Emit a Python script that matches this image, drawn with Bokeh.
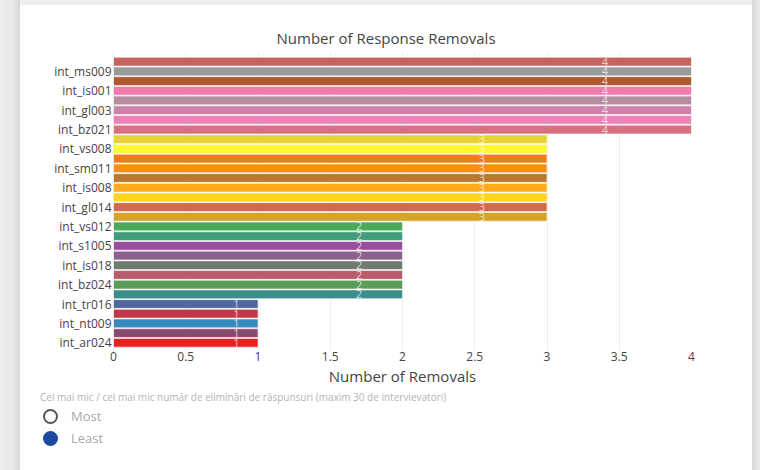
from bokeh.plotting import figure
from bokeh.models import ColumnDataSource, FixedTicker, NumeralTickFormatter, Range1d, Div
from bokeh.layouts import row, column
from bokeh.core.properties import value
from bokeh.embed import file_html
from bokeh.resources import INLINE

# Bars listed top to bottom; "" = bar whose label is hidden in the reference
names = ["", "int_ms009", "", "int_is001", "", "int_gl003", "", "int_bz021",
         "", "int_vs008", "", "int_sm011", "", "int_is008", "", "int_gl014", "",
         "int_vs012", "", "int_s1005", "", "int_is018", "", "int_bz024",
         "", "int_tr016", "", "int_nt009", "", "int_ar024"]
removals = [4, 4, 4, 4, 4, 4, 4, 4,
            3, 3, 3, 3, 3, 3, 3, 3, 3,
            2, 2, 2, 2, 2, 2, 2, 2,
            1, 1, 1, 1, 1]
colors = ["#c8625e", "#9a9a9a", "#b0582e", "#f07cae", "#b88ca0", "#cc82aa", "#e884b8", "#d8707f",
          "#e6d232", "#fff82a", "#f07c1e", "#ff8c14", "#b87830", "#ffaa18", "#ffd41e", "#d4684a", "#d2a42a",
          "#4aaa58", "#409c7a", "#9a4e9e", "#8a628a", "#6e7c6e", "#b85c6c", "#5a9c5a", "#3c8c8a",
          "#5068a0", "#c03848", "#3888c0", "#8a4a70", "#e82222"]
x_ticks = [0, 0.5, 1, 1.5, 2, 2.5, 3, 3.5, 4]
title_text = "Number of Response Removals"
x_title = "Number of Removals"
caption = "Cel mai mic / cel mai mic număr de eliminări de răspunsuri (maxim 30 de intervievatori)"
options = ["Most", "Least"]
selected = [False, True]

n = len(names)
ypos = [n - 1 - i for i in range(n)]
src = ColumnDataSource(dict(
    y=ypos, v=removals, c=colors,
    tx=[0.85 * v for v in removals],
    t=[str(v) for v in removals],
))

FONT = "Open Sans"
p = figure(width=732, height=383, output_backend="svg", toolbar_location=None,
           x_range=Range1d(0, 4), y_range=Range1d(-0.9, n - 1 + 0.95),
           min_border_left=93, min_border_right=61, min_border_top=47, min_border_bottom=37)
p.outline_line_color = None
p.background_fill_color = "white"
p.border_fill_color = "white"

p.title.text = title_text
p.title.text_font = FONT
p.title.text_font_size = "15px"
p.title.text_font_style = "normal"
p.title.text_color = "#444444"
p.title.align = "left"
p.title.offset = 163
p.title.standoff = 9

p.hbar(y="y", right="v", left=0, height=0.9, fill_color="c", line_color="white",
       line_alpha=0.55, line_width=1, source=src)
p.text(x="tx", y="y", text="t", source=src, text_align="center", text_baseline="middle",
       text_color="white", text_alpha=0.7, text_font=value(FONT), text_font_size="11px")

p.xaxis.ticker = FixedTicker(ticks=x_ticks)
p.xaxis.formatter = NumeralTickFormatter(format="0.[0]")
p.xaxis.axis_line_color = None
p.xaxis.major_tick_line_color = None
p.xaxis.minor_tick_line_color = None
p.xaxis.major_tick_out = 0
p.xaxis.major_tick_in = 0
p.xaxis.minor_tick_out = 0
p.xaxis.major_label_standoff = 0
p.xaxis.major_label_text_font = FONT
p.xaxis.major_label_text_font_size = "12px"
p.xaxis.major_label_text_color = "#444444"
p.xaxis.axis_label = x_title
p.xaxis.axis_label_text_font = FONT
p.xaxis.axis_label_text_font_size = "15px"
p.xaxis.axis_label_text_font_style = "normal"
p.xaxis.axis_label_text_color = "#444444"
p.xaxis.axis_label_standoff = 2

tick_y = [ypos[i] for i in range(n) if names[i]]
p.yaxis.ticker = FixedTicker(ticks=tick_y)
p.yaxis.major_label_overrides = {ypos[i]: names[i] for i in range(n) if names[i]}
p.yaxis.axis_line_color = "#e6e6e6"
p.yaxis.major_tick_line_color = None
p.yaxis.minor_tick_line_color = None
p.yaxis.major_tick_out = 0
p.yaxis.major_tick_in = 0
p.yaxis.minor_tick_out = 0
p.yaxis.major_label_standoff = 2
p.yaxis.major_label_text_font = FONT
p.yaxis.major_label_text_font_size = "12px"
p.yaxis.major_label_text_color = "#444444"

p.xgrid.grid_line_color = "#eeeeee"
p.ygrid.grid_line_color = None

# control area below chart (radio-style selector)
items = []
for i, (opt, sel) in enumerate(zip(options, selected)):
    cy = 28 + 22 * i
    circ = ("background:#1c4aa0;border:2px solid #1c4aa0;" if sel
            else "background:white;border:2px solid #555555;")
    items.append(
        f'<div style="position:absolute;left:23px;top:{cy - 7}px;width:15px;height:15px;'
        f'box-sizing:border-box;border-radius:50%;{circ}"></div>'
        f'<div style="position:absolute;left:51px;top:{cy - 10}px;height:20px;line-height:20px;'
        f'font-size:13px;color:#a8a8a8;">{opt}</div>'
    )
html = (
    f'<div style="position:relative;width:732px;height:82px;font-family:\'{FONT}\';background:white;">'
    f'<div style="position:absolute;left:20px;top:2px;height:14px;line-height:14px;'
    f'font-size:10px;color:#b4b4b4;white-space:nowrap;">{caption}</div>'
    + "".join(items) + '</div>'
)
ctrl = Div(text=html, width=732, height=82, margin=0, styles={"background-color": "white"})

left = Div(width=20, height=470, margin=0,
           styles={"background": "linear-gradient(to right, #ededed 0%, #e8e8e8 65%, #d6d6d6 100%)"})
top = Div(width=732, height=5, margin=0, styles={"background-color": "#ededed"})
right = Div(width=8, height=470, margin=0,
            styles={"background": "linear-gradient(to right, #d8d8d8 0%, #ececec 100%)"})
card = column(top, p, ctrl, spacing=0)
layout = row(left, card, right, spacing=0)

open("out.html", "w").write(file_html(layout, INLINE))
